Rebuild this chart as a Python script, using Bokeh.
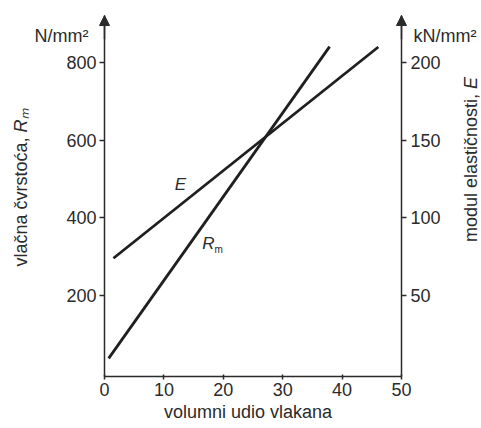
import math
from bokeh.plotting import figure
from bokeh.models import Range1d, LinearAxis, FixedTicker, Label, Arrow, NormalHead
from bokeh.embed import file_html
from bokeh.resources import INLINE

# ---- data ----
vol_rm = [0.7, 37.9]          # volumni udio vlakana, %
rm_vals = [38, 841]           # vlačna čvrstoća R_m, N/mm²
vol_e = [1.5, 46.1]           # volumni udio vlakana, %
e_vals = [74, 210]            # modul elastičnosti E, kN/mm²
x_ticks = [0, 10, 20, 30, 40, 50]
left_ticks = [200, 400, 600, 800]
right_ticks = [50, 100, 150, 200]

FONT = "Liberation Sans"
INK = "#2b2b2b"
FS = "18px"

# axis extents (data units)
X0, X1 = 0, 50
Y0, Y1 = -8.6, 921            # left axis (N/mm²), bottom axis sits at Y0
K = 4.0                       # N/mm² per kN/mm² on the drawing

p = figure(width=481, height=427,
           x_range=Range1d(-17.51, 63.47), y_range=Range1d(-139.9, 959.7),
           x_axis_location=None, y_axis_location=None,
           output_backend="svg", toolbar_location=None, min_border=0)
p.extra_y_ranges = {"right": Range1d(-139.9 / K, 959.7 / K)}
p.grid.visible = False
p.outline_line_color = None
p.background_fill_color = "white"
p.border_fill_color = "white"

xa = LinearAxis(fixed_location=Y0, bounds=(X0, X1), ticker=FixedTicker(ticks=x_ticks))
ya = LinearAxis(fixed_location=X0, bounds=(Y0, Y1), ticker=FixedTicker(ticks=left_ticks))
ra = LinearAxis(y_range_name="right", fixed_location=X1, bounds=(Y0 / K, Y1 / K),
                ticker=FixedTicker(ticks=right_ticks))
p.add_layout(xa, "below")
p.add_layout(ya, "left")
p.add_layout(ra, "right")

xa.major_tick_out = 3
xa.major_tick_in = 2
xa.major_label_standoff = 3
ya.major_tick_out = 5
ya.major_tick_in = 0
ya.major_label_standoff = 3
ra.major_tick_out = 5
ra.major_tick_in = 0
ra.major_label_standoff = 4

for ax in (xa, ya, ra):
    ax.minor_tick_line_color = None
    ax.axis_line_color = INK
    ax.axis_line_width = 1.5
    ax.major_tick_line_color = INK
    ax.major_tick_line_width = 1.5
    ax.major_label_text_font = FONT
    ax.major_label_text_font_size = FS
    ax.major_label_text_color = INK

# data lines
p.line(vol_rm, rm_vals, line_width=2.8, line_color="#1f1f1f")
p.line(vol_e, e_vals, line_width=2.8, line_color="#1f1f1f", y_range_name="right")

# arrows on the vertical axes
for xv in (X0, X1):
    p.add_layout(Arrow(end=NormalHead(size=10, fill_color=INK, line_color=INK, line_width=1),
                       x_start=xv, y_start=860, x_end=xv, y_end=Y1,
                       line_color=INK, line_width=1.5))

def txt(**kw):
    base = dict(text_font=FONT, text_font_size=FS, text_color=INK)
    base.update(kw)
    p.add_layout(Label(**base))

UP = math.pi / 2

# unit labels
txt(x=X0, y=869, x_offset=-16, text="N/mm²", text_align="right", text_baseline="alphabetic")
txt(x=X1, y=869, x_offset=12, text="kN/mm²", text_align="left", text_baseline="alphabetic")

# left axis title: "vlačna čvrstoća, " + italic R_m
txt(x=X0, y=607, x_offset=-84, text="vlačna čvrstoća,", angle=UP,
    text_align="right", text_baseline="middle")
txt(x=X0, y=620, x_offset=-84, text="Rₘ", angle=UP, text_font_style="italic",
    text_align="left", text_baseline="middle")

# right axis title: "modul elastičnosti, " + italic E
txt(x=X1, y=719, x_offset=70, text="modul elastičnosti,", angle=UP,
    text_align="right", text_baseline="middle")
txt(x=X1, y=732, x_offset=70, text="E", angle=UP, text_font_style="italic",
    text_align="left", text_baseline="middle")

# x axis title
txt(x=(X0 + X1) / 2, y=-99, x_offset=-5, text="volumni udio vlakana",
    text_align="center", text_baseline="middle")

# curve labels
txt(x=12.8, y=486, text="E", text_font_style="italic", text_align="center",
    text_baseline="middle", text_font_size="17px")
txt(x=17.5, y=334, text="R", text_font_style="italic", text_align="center",
    text_baseline="middle", text_font_size="17px")
txt(x=17.5, y=318, x_offset=6, text="m", text_align="left",
    text_baseline="middle", text_font_size="10px")

open("out.html", "w").write(file_html(p, INLINE))
